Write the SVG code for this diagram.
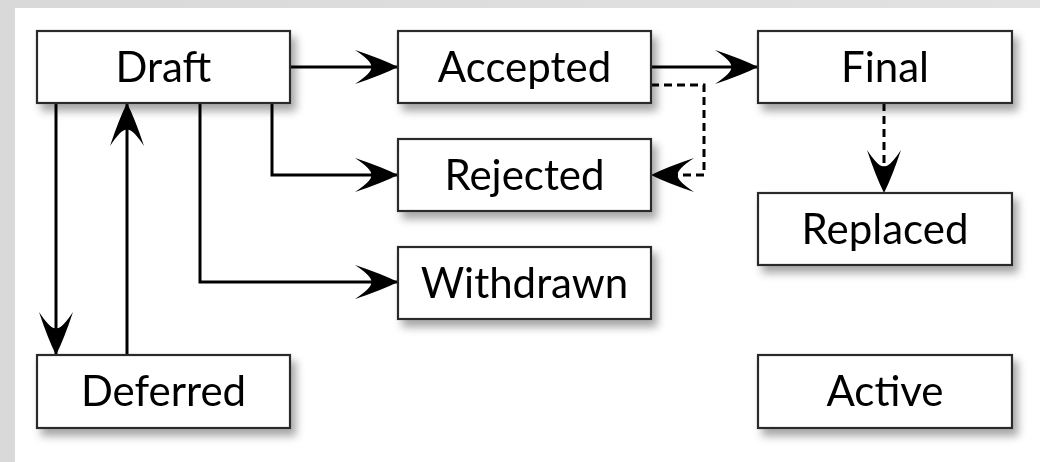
<svg xmlns="http://www.w3.org/2000/svg" width="1040" height="462" viewBox="0 0 1040 462">
<defs>
  <linearGradient id="bg" x1="0" y1="0" x2="1" y2="0">
    <stop offset="0" stop-color="#d9d9d9"/>
    <stop offset="1" stop-color="#e2e2e2"/>
  </linearGradient>
  <filter id="shadow" x="-10%" y="-20%" width="130%" height="160%">
    <feDropShadow dx="5" dy="7" stdDeviation="4" flood-color="#000" flood-opacity="0.35"/>
  </filter>
  <marker id="arrow" markerUnits="userSpaceOnUse" markerWidth="46" markerHeight="36" refX="44" refY="18" orient="auto" viewBox="0 0 46 36">
    <path d="M44,18 Q28,10 1,1 Q19,13 17,18 Q19,23 1,35 Q28,26 44,18 Z" fill="#000"/>
  </marker>
</defs>
<style>
  .box { fill: #ffffff; stroke: #2a2a2a; stroke-width: 2.2; }
  .label { font-family: Lato, "Open Sans", "DejaVu Sans", sans-serif; font-size: 42px; fill: #000; text-anchor: middle; }
  .conn { fill: none; stroke: #000; stroke-width: 3; marker-end: url(#arrow); }
  .dash { stroke-dasharray: 8 5; }
</style>
<rect x="0" y="0" width="1040" height="462" fill="url(#bg)"/>
<rect x="15" y="8" width="1025" height="454" fill="#ffffff"/>

<g id="connectors">
  <path class="conn" d="M290,67 L398,67"/>
  <path class="conn" d="M651,67 L758,67"/>
  <path class="conn dash" d="M651,85 L704,85 L704,175 L651,175"/>
  <path class="conn" d="M272,103 L272,175 L398,175"/>
  <path class="conn" d="M200,103 L200,282 L398,282"/>
  <path class="conn" d="M56,103 L56,355"/>
  <path class="conn" d="M127,355 L127,103"/>
  <path class="conn dash" d="M884,103 L884,193"/>
</g>

<g id="draft" filter="url(#shadow)">
  <rect class="box" x="37" y="31" width="253" height="72"/>
  <text class="label" x="163.5" y="82">Draft</text>
</g>
<g id="accepted" filter="url(#shadow)">
  <rect class="box" x="398" y="31" width="253" height="72"/>
  <text class="label" x="524.5" y="82">Accepted</text>
</g>
<g id="final" filter="url(#shadow)">
  <rect class="box" x="758" y="31" width="254" height="72"/>
  <text class="label" x="885" y="82">Final</text>
</g>
<g id="rejected" filter="url(#shadow)">
  <rect class="box" x="398" y="139" width="253" height="72"/>
  <text class="label" x="524.5" y="190">Rejected</text>
</g>
<g id="replaced" filter="url(#shadow)">
  <rect class="box" x="758" y="193" width="254" height="72"/>
  <text class="label" x="885" y="244">Replaced</text>
</g>
<g id="withdrawn" filter="url(#shadow)">
  <rect class="box" x="398" y="247" width="253" height="72"/>
  <text class="label" x="524.5" y="298">Withdrawn</text>
</g>
<g id="deferred" filter="url(#shadow)">
  <rect class="box" x="37" y="355" width="253" height="73"/>
  <text class="label" x="163.5" y="406">Deferred</text>
</g>
<g id="active" filter="url(#shadow)">
  <rect class="box" x="758" y="355" width="254" height="73"/>
  <text class="label" x="885" y="406">Active</text>
</g>
</svg>
